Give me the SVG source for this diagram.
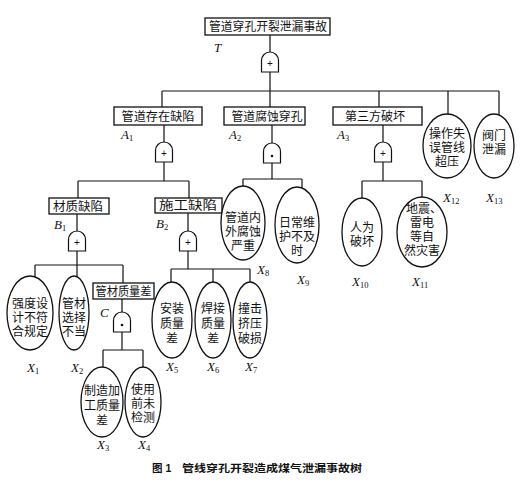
<svg xmlns="http://www.w3.org/2000/svg" width="527" height="485" viewBox="0 0 527 485">
<defs>
<style>
.ln{fill:none;stroke:#111;stroke-width:1.2}
.bx{fill:#fff;stroke:#111;stroke-width:1.3}
.el{fill:#fff;stroke:#111;stroke-width:1.3}
.g{fill:#fff;stroke:#111;stroke-width:1.2}
.t{font-family:"Liberation Sans","Noto Sans CJK SC",sans-serif;font-size:12px;fill:#111;text-anchor:middle}
.bt{font-family:"Liberation Sans","Noto Sans CJK SC",sans-serif;font-size:12px;fill:#111;text-anchor:middle}
.lb{font-family:"Liberation Serif",serif;font-style:italic;font-size:13px;fill:#111}
.sb{font-style:normal;font-size:8.5px}
.sym{font-family:"Liberation Sans",sans-serif;font-size:10px;fill:#111;text-anchor:middle}
.cap{font-family:"Liberation Sans","Noto Sans CJK SC",sans-serif;font-size:10.5px;font-weight:bold;fill:#111}
</style>
<path id="gate" d="M-8.5,20 V8.5 A8.5 8.5 0 0 1 8.5,8.5 V20 Z"/>
</defs>
<rect width="527" height="485" fill="#fff"/>
<g id="connectors" class="ln">
<path d="M270,35 V52 M270,72 V91 M162,91 H499 M162,91 V107 M270,91 V107 M379,91 V107 M448,91 V114 M499,91 V117"/>
<path d="M164,125 V142 M164,162 V181 M78,181 H189 M78,181 V198 M189,181 V198"/>
<path d="M77,214 V231 M77,251 V265 M35,265 H123 M35,265 V278 M77,265 V277 M123,265 V283"/>
<path d="M122,299 V312 M122,332 V350 M103,350 H143 M103,350 V367 M143,350 V367"/>
<path d="M188,213 V231 M188,251 V269 M171,269 H250 M171,269 V282 M213,269 V282 M250,269 V282"/>
<path d="M272,125 V143 M272,163 V179 M243,179 H302 M243,179 V186 M302,179 V188"/>
<path d="M383,125 V142 M383,162 V181 M362,181 H422 M362,181 V198 M422,181 V197"/>
</g>
<g id="T">
<rect class="bx" x="205" y="18" width="125" height="17"/>
<text class="bt" x="268" y="31" textLength="118" lengthAdjust="spacingAndGlyphs">管道穿孔开裂泄漏事故</text>
<text class="lb" x="214" y="52">T</text>
<use href="#gate" class="g" x="270" y="52"/>
<text class="sym" x="270" y="67">+</text>
</g>
<g id="A1">
<rect class="bx" x="114" y="107" width="88" height="18"/>
<text class="bt" x="158" y="120.5" textLength="73" lengthAdjust="spacingAndGlyphs">管道存在缺陷</text>
<text class="lb" x="121" y="139">A<tspan class="sb" dy="2">1</tspan></text>
<use href="#gate" class="g" x="164" y="142"/>
<text class="sym" x="164" y="157">+</text>
</g>
<g id="A2">
<rect class="bx" x="224" y="107" width="81" height="18"/>
<text class="bt" x="267" y="120.5" textLength="71" lengthAdjust="spacingAndGlyphs">管道腐蚀穿孔</text>
<text class="lb" x="229" y="139">A<tspan class="sb" dy="2">2</tspan></text>
<use href="#gate" class="g" x="272" y="143"/>
<circle cx="272" cy="156" r="1.3" fill="#111"/>
</g>
<g id="A3">
<rect class="bx" x="333" y="107" width="89" height="18"/>
<text class="bt" x="375" y="120.5" textLength="60" lengthAdjust="spacingAndGlyphs">第三方破坏</text>
<text class="lb" x="337" y="139">A<tspan class="sb" dy="2">3</tspan></text>
<use href="#gate" class="g" x="383" y="142"/>
<text class="sym" x="383" y="157">+</text>
</g>
<g id="B1">
<rect class="bx" x="49" y="198" width="60" height="16"/>
<text class="bt" x="78" y="210.5" textLength="50" lengthAdjust="spacingAndGlyphs">材质缺陷</text>
<text class="lb" x="54" y="229">B<tspan class="sb" dy="2">1</tspan></text>
<use href="#gate" class="g" x="77" y="231"/>
<text class="sym" x="77" y="246">+</text>
</g>
<g id="B2">
<rect class="bx" x="155" y="198" width="67" height="15"/>
<text class="bt" x="188" y="210" textLength="58" lengthAdjust="spacingAndGlyphs">施工缺陷</text>
<text class="lb" x="156" y="228">B<tspan class="sb" dy="2">2</tspan></text>
<use href="#gate" class="g" x="188" y="231"/>
<text class="sym" x="188" y="246">+</text>
</g>
<g id="C">
<rect class="bx" x="93" y="283" width="61" height="16"/>
<text class="bt" x="123.5" y="295.5" textLength="56" lengthAdjust="spacingAndGlyphs">管材质量差</text>
<text class="lb" x="100" y="317">C</text>
<use href="#gate" class="g" x="122" y="312"/>
<circle cx="122" cy="325" r="1.3" fill="#111"/>
</g>
<g id="X1">
<ellipse class="el" cx="30" cy="313" rx="23" ry="37"/>
<text class="t"><tspan x="30" y="308">强度设</tspan><tspan x="30" dy="14">计不符</tspan><tspan x="30" dy="14">合规定</tspan></text>
<text class="lb" x="27" y="372">X<tspan class="sb" dy="2">1</tspan></text>
</g>
<g id="X2">
<ellipse class="el" cx="74" cy="313" rx="15" ry="37"/>
<text class="t"><tspan x="74" y="308">管材</tspan><tspan x="74" dy="14">选择</tspan><tspan x="74" dy="14">不当</tspan></text>
<text class="lb" x="71" y="372">X<tspan class="sb" dy="2">2</tspan></text>
</g>
<g id="X3">
<ellipse class="el" cx="102" cy="402" rx="21" ry="35"/>
<text class="t"><tspan x="102" y="395">制造加</tspan><tspan x="102" dy="15">工质量</tspan><tspan x="102" dy="15">差</tspan></text>
<text class="lb" x="97" y="449">X<tspan class="sb" dy="2">3</tspan></text>
</g>
<g id="X4">
<ellipse class="el" cx="143" cy="402" rx="18" ry="35"/>
<text class="t"><tspan x="143" y="394">使用</tspan><tspan x="143" dy="14">前未</tspan><tspan x="143" dy="14">检测</tspan></text>
<text class="lb" x="138" y="449">X<tspan class="sb" dy="2">4</tspan></text>
</g>
<g id="X5">
<ellipse class="el" cx="172" cy="320" rx="20" ry="38"/>
<text class="t"><tspan x="172" y="313">安装</tspan><tspan x="172" dy="15">质量</tspan><tspan x="172" dy="15">差</tspan></text>
<text class="lb" x="166" y="371">X<tspan class="sb" dy="2">5</tspan></text>
</g>
<g id="X6">
<ellipse class="el" cx="213" cy="320" rx="18" ry="38"/>
<text class="t"><tspan x="213" y="313">焊接</tspan><tspan x="213" dy="15">质量</tspan><tspan x="213" dy="15">差</tspan></text>
<text class="lb" x="207" y="371">X<tspan class="sb" dy="2">6</tspan></text>
</g>
<g id="X7">
<ellipse class="el" cx="250" cy="320" rx="17" ry="38"/>
<text class="t"><tspan x="250" y="313">撞击</tspan><tspan x="250" dy="15">挤压</tspan><tspan x="250" dy="15">破损</tspan></text>
<text class="lb" x="245" y="371">X<tspan class="sb" dy="2">7</tspan></text>
</g>
<g id="X8">
<ellipse class="el" cx="243" cy="223" rx="22" ry="37"/>
<text class="t"><tspan x="243" y="222">管道内</tspan><tspan x="243" dy="14">外腐蚀</tspan><tspan x="243" dy="14">严重</tspan></text>
<text class="lb" x="257" y="274">X<tspan class="sb" dy="2">8</tspan></text>
</g>
<g id="X9">
<ellipse class="el" cx="297" cy="225" rx="22" ry="38"/>
<text class="t"><tspan x="297" y="227">日常维</tspan><tspan x="297" dy="14">护不及</tspan><tspan x="297" dy="14">时</tspan></text>
<text class="lb" x="297" y="284">X<tspan class="sb" dy="2">9</tspan></text>
</g>
<g id="X10">
<ellipse class="el" cx="362" cy="232" rx="20" ry="34"/>
<text class="t"><tspan x="362" y="232">人为</tspan><tspan x="362" dy="14">破坏</tspan></text>
<text class="lb" x="352" y="286">X<tspan class="sb" dy="2">10</tspan></text>
</g>
<g id="X11">
<ellipse class="el" cx="422" cy="232" rx="25" ry="35"/>
<text class="t"><tspan x="424" y="213">地震、</tspan><tspan x="422" dy="14">雷电</tspan><tspan x="422" dy="14">等自</tspan><tspan x="422" dy="14">然灾害</tspan></text>
<text class="lb" x="412" y="286">X<tspan class="sb" dy="2">11</tspan></text>
</g>
<g id="X12">
<ellipse class="el" cx="447" cy="146" rx="24" ry="32"/>
<text class="t"><tspan x="447" y="138">操作失</tspan><tspan x="447" dy="14">误管线</tspan><tspan x="447" dy="14">超压</tspan></text>
<text class="lb" x="443" y="202">X<tspan class="sb" dy="2">12</tspan></text>
</g>
<g id="X13">
<ellipse class="el" cx="494" cy="146" rx="20" ry="32"/>
<text class="t"><tspan x="494" y="140">阀门</tspan><tspan x="494" dy="14">泄漏</tspan></text>
<text class="lb" x="486" y="202">X<tspan class="sb" dy="2">13</tspan></text>
</g>
<g id="caption">
<text class="cap" x="152" y="472">图 1</text>
<text class="cap" x="182" y="472" textLength="180" lengthAdjust="spacingAndGlyphs">管线穿孔开裂造成煤气泄漏事故树</text>
</g>
</svg>
